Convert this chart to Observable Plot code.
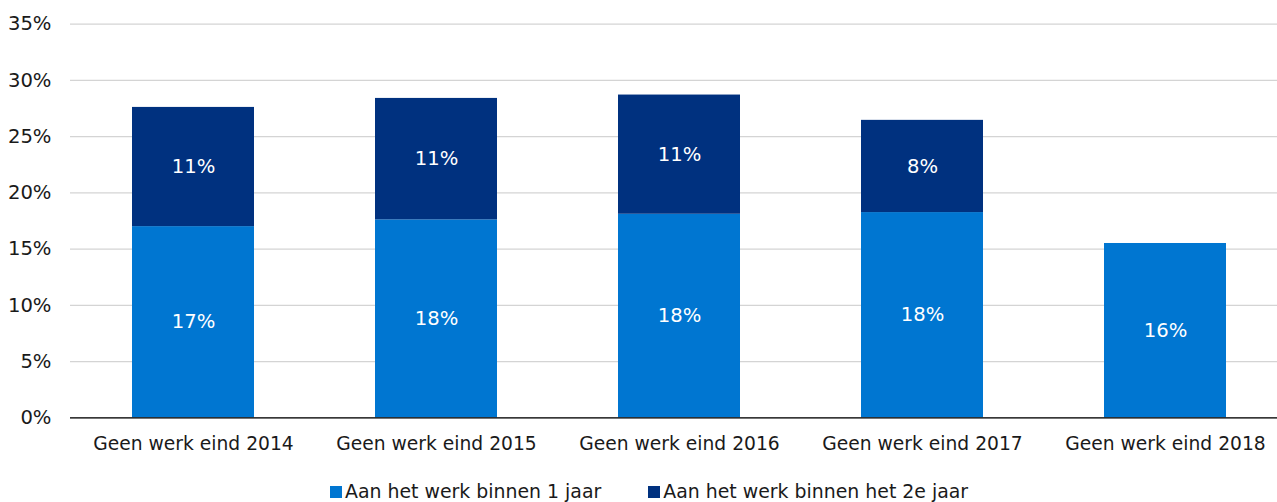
<!DOCTYPE html>
<html>
<head>
<meta charset="utf-8">
<script src="https://cdn.jsdelivr.net/npm/d3@7"></script>
<script src="https://cdn.jsdelivr.net/npm/@observablehq/plot@0.6"></script>
<style>
  html, body { margin: 0; padding: 0; background: #fff; }
  #chart { width: 1277px; height: 502px; overflow: hidden; font-family: "DejaVu Sans", Verdana, sans-serif; }
  .legend { display: flex; align-items: center; height: 21px; margin-top: 0px; margin-left: 330px; font-size: 18.9px; color: #1a1a1a; white-space: nowrap; line-height: 21px; }
  .legend .item { display: flex; align-items: center; margin-right: 47px; }
  .legend .sw { width: 12px; height: 12px; margin-right: 3px; }
</style>
</head>
<body>
<div id="chart"></div>
<script>
const categories = [
  "Geen werk eind 2014",
  "Geen werk eind 2015",
  "Geen werk eind 2016",
  "Geen werk eind 2017",
  "Geen werk eind 2018"
];
const within1Year = [17.0, 17.6, 18.1, 18.25, 15.5];
const within2ndYear = [10.6, 10.8, 10.6, 8.2, null];
const seriesNames = ["Aan het werk binnen 1 jaar", "Aan het werk binnen het 2e jaar"];
const seriesColors = ["#0076d1", "#00317f"];
const yTicks = [0, 5, 10, 15, 20, 25, 30, 35];

const rows = [];
categories.forEach((c, i) => {
  rows.push({cat: c, series: seriesNames[0], value: within1Year[i]});
  if (within2ndYear[i] != null) rows.push({cat: c, series: seriesNames[1], value: within2ndYear[i]});
});

const pct = d => d + "%";

const plot = Plot.plot({
  width: 1277,
  height: 481,
  marginLeft: 70,
  marginRight: 0,
  marginTop: 23,
  marginBottom: 64,
  style: {fontFamily: "DejaVu Sans, Verdana, sans-serif", fontSize: "18.7px", color: "#1a1a1a", background: "#fff"},
  x: {domain: categories, range: [69, 1287.5], paddingInner: 0.5, paddingOuter: 0.25, label: null},
  y: {domain: [0, 35], range: [417.3, 23.7], label: null},
  color: {domain: seriesNames, range: seriesColors},
  marks: [
    Plot.gridY(yTicks, {stroke: "#d4d4d4", strokeOpacity: 1, strokeWidth: 1.3}),
    Plot.barY(rows, Plot.stackY({x: "cat", y: "value", fill: "series"})),
    Plot.text(rows, Plot.stackY({x: "cat", y: "value", z: "series", text: d => Math.round(d.value) + "%", fill: "white", fontSize: 19.6})),
    Plot.ruleY([0], {stroke: "#000", strokeWidth: 1.3}),
    Plot.axisY(yTicks, {tickSize: 0, tickPadding: 19, tickFormat: pct, fontSize: 19.6, label: null}),
    Plot.axisX({tickSize: 0, tickPadding: 19, fontSize: 18.7, label: null})
  ]
});

const chart = document.getElementById("chart");
chart.appendChild(plot);

const legend = document.createElement("div");
legend.className = "legend";
seriesNames.forEach((name, i) => {
  const item = document.createElement("div");
  item.className = "item";
  const sw = document.createElement("div");
  sw.className = "sw";
  sw.style.background = seriesColors[i];
  const label = document.createElement("span");
  label.textContent = name;
  item.appendChild(sw);
  item.appendChild(label);
  legend.appendChild(item);
});
chart.appendChild(legend);
</script>
</body>
</html>
